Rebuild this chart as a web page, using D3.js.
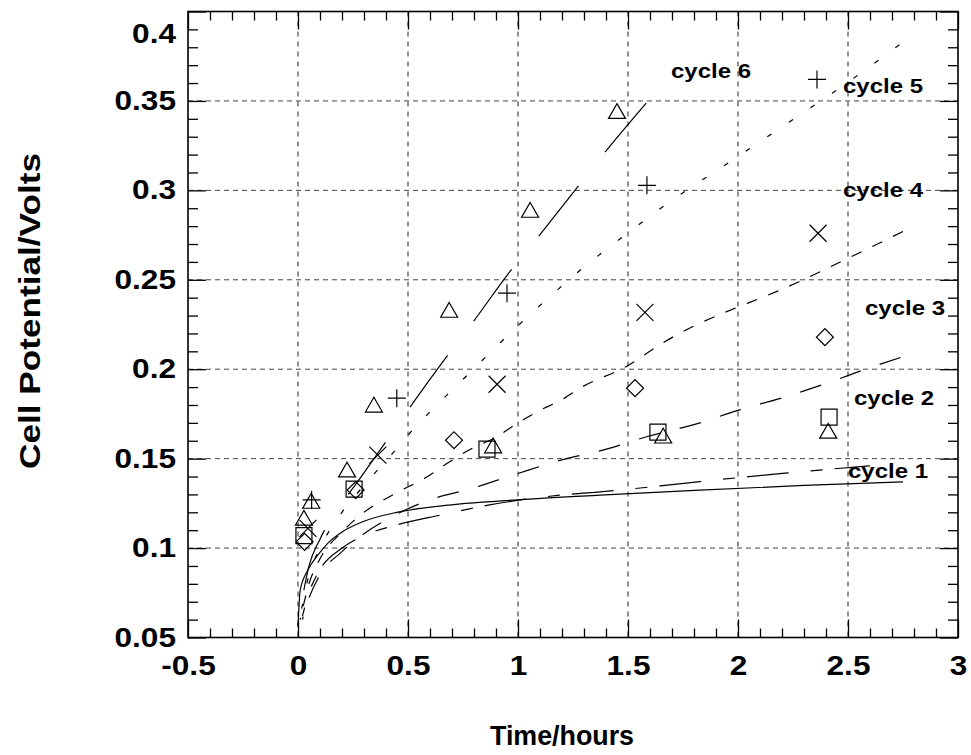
<!DOCTYPE html>
<html><head><meta charset="utf-8">
<script src="https://cdn.jsdelivr.net/npm/d3@7"></script>
<style>
body{margin:0;background:#fff;}
text{font-family:"Liberation Sans",Arial,sans-serif;font-weight:bold;fill:#000;}
</style>
</head><body>
<svg id="chart" width="971" height="755"></svg>
<script>
// ---------- axis ticks ----------
const xTickValues = [-0.5, 0, 0.5, 1, 1.5, 2, 2.5, 3];
const xTickLabels = ["-0.5", "0", "0.5", "1", "1.5", "2", "2.5", "3"];
const yTickValues = [0.05, 0.1, 0.15, 0.2, 0.25, 0.3, 0.35, 0.4];
const yTickLabels = ["0.05", "0.1", "0.15", "0.2", "0.25", "0.3", "0.35", "0.4"];
const xGridValues = [0, 0.5, 1, 1.5, 2, 2.5];
const yGridValues = [0.1, 0.15, 0.2, 0.25, 0.3, 0.35];

// ---------- model curves (time in hours, potential in volts) ----------
const cycle1Time  = [0, 0.01, 0.045, 0.09, 0.136, 0.2, 0.3, 0.45, 0.645, 1.0, 1.373, 1.827, 2.3, 2.75];
const cycle1Volts = [0.056, 0.0765, 0.0877, 0.096, 0.1028, 0.109, 0.115, 0.12, 0.1235, 0.127, 0.1296, 0.1324, 0.135, 0.137];

const cycle2Time  = [0.02, 0.05, 0.1, 0.2, 0.3, 0.45, 0.645, 0.864, 1.245, 1.373, 1.827, 2.214, 2.6];
const cycle2Volts = [0.062, 0.075, 0.088, 0.1, 0.107, 0.113, 0.1184, 0.124, 0.1302, 0.1314, 0.1372, 0.1419, 0.146];

const cycle3Time  = [0.02, 0.05, 0.1, 0.2, 0.3, 0.45, 0.6, 0.78, 0.99, 1.19, 1.41, 1.6, 1.8, 2.0, 2.2, 2.4, 2.58, 2.75];
const cycle3Volts = [0.06, 0.072, 0.085, 0.098, 0.108, 0.119, 0.127, 0.133, 0.1413, 0.149, 0.1556, 0.1628, 0.169, 0.177, 0.184, 0.192, 0.2, 0.207];

const cycle4Time  = [0.01, 0.05, 0.1, 0.2, 0.3, 0.45, 0.585, 0.68, 0.78, 0.9, 1.0, 1.1, 1.2, 1.29, 1.495, 1.655, 2.282, 2.75];
const cycle4Volts = [0.06, 0.08, 0.094, 0.109, 0.12, 0.131, 0.1397, 0.1475, 0.155, 0.162, 0.17, 0.177, 0.183, 0.19, 0.2017, 0.2145, 0.2492, 0.277];

const cycle5Time  = [0.01, 0.05, 0.1, 0.2, 0.3, 0.373, 0.455, 0.532, 0.615, 0.714, 1.085, 1.177, 1.282, 1.473, 1.66, 2.0, 2.718, 2.75];
const cycle5Volts = [0.062, 0.085, 0.1, 0.12, 0.135, 0.1453, 0.1564, 0.1676, 0.178, 0.19, 0.234, 0.2441, 0.2553, 0.2737, 0.291, 0.319, 0.38, 0.383];

const cycle6Time  = [0.01, 0.05, 0.1, 0.2, 0.282, 0.395, 0.509, 0.68, 0.795, 0.964, 1.09, 1.273, 1.395, 1.586];
const cycle6Volts = [0.065, 0.09, 0.105, 0.125, 0.139, 0.1587, 0.1788, 0.2078, 0.2263, 0.2547, 0.2737, 0.3022, 0.3212, 0.3492];

// ---------- measured points ----------
const cycle1MarkTime  = [0.027, 0.223, 0.887, 1.66, 2.41];          // triangles
const cycle1MarkVolts = [0.1156, 0.1425, 0.156, 0.1615, 0.1642];
const cycle2MarkTime  = [0.027, 0.255, 0.859, 1.636, 2.414];        // squares
const cycle2MarkVolts = [0.107, 0.133, 0.1553, 0.1648, 0.1732];
const cycle3MarkTime  = [0.03, 0.262, 0.709, 1.532, 2.395];         // diamonds
const cycle3MarkVolts = [0.1035, 0.1324, 0.1603, 0.1894, 0.2179];
const cycle4MarkTime  = [0.045, 0.363, 0.905, 1.577, 2.364];        // crosses (x)
const cycle4MarkVolts = [0.111, 0.152, 0.1916, 0.2318, 0.276];
const cycle5MarkTime  = [0.062, 0.449, 0.95, 1.586, 2.359];         // plus
const cycle5MarkVolts = [0.127, 0.1838, 0.2425, 0.3028, 0.362];
const cycle6MarkTime  = [0.06, 0.345, 0.687, 1.055, 1.45];          // triangles
const cycle6MarkVolts = [0.125, 0.1788, 0.2318, 0.2877, 0.343];

const cycleNames = ["cycle 1", "cycle 2", "cycle 3", "cycle 4", "cycle 5", "cycle 6"];
const xTitle = "Time/hours";
const yTitle = "Cell Potential/Volts";

// ---------- drawing ----------
const svg = d3.select("#chart");
const L = 188, R = 958, T = 11.5, B = 637.5;
const x = d3.scaleLinear().domain([-0.5, 3]).range([L, R]);
const y = d3.scaleLinear().domain([0.05, 0.4]).range([B, T]);

function stretch(sel, f) {
  sel.each(function () {
    const w = this.getComputedTextLength();
    d3.select(this).attr("textLength", w * f).attr("lengthAdjust", "spacingAndGlyphs");
  });
}

// grid
svg.append("g").selectAll("line").data(yGridValues).join("line")
  .attr("x1", L).attr("x2", R).attr("y1", d => y(d)).attr("y2", d => y(d))
  .attr("stroke", "#444").attr("stroke-width", 1).attr("stroke-dasharray", "5,4");
svg.append("g").selectAll("line").data(xGridValues).join("line")
  .attr("y1", T).attr("y2", B).attr("x1", d => x(d)).attr("x2", d => x(d))
  .attr("stroke", "#222").attr("stroke-width", 1).attr("stroke-dasharray", "5,5");

// minor ticks
const xMinor = d3.range(-5, 31).map(i => i / 10).filter(v => Math.abs(v * 2 - Math.round(v * 2)) > 1e-6);
const yMinor = d3.range(5, 41).map(i => i / 100).filter(v => Math.abs(v * 20 - Math.round(v * 20)) > 1e-6);
function noText(g) { g.selectAll("text").remove(); g.select(".domain").remove(); }

svg.append("g").attr("transform", `translate(0,${B})`)
  .call(d3.axisBottom(x).tickValues(xMinor).tickSizeInner(-9).tickSizeOuter(0)).call(noText);
svg.append("g").attr("transform", `translate(0,${T})`)
  .call(d3.axisTop(x).tickValues(xMinor).tickSizeInner(-9).tickSizeOuter(0)).call(noText);
svg.append("g").attr("transform", `translate(${L},0)`)
  .call(d3.axisLeft(y).tickValues(yMinor).tickSizeInner(-10).tickSizeOuter(0)).call(noText);
svg.append("g").attr("transform", `translate(${R},0)`)
  .call(d3.axisRight(y).tickValues(yMinor).tickSizeInner(-10).tickSizeOuter(0)).call(noText);

// major ticks with labels
const xAxis = svg.append("g").attr("transform", `translate(0,${B})`)
  .call(d3.axisBottom(x).tickValues(xTickValues).tickFormat((d, i) => xTickLabels[i]).tickSizeInner(-18).tickSizeOuter(0).tickPadding(18));
xAxis.select(".domain").remove();
xAxis.selectAll("text").attr("font-size", 27).attr("font-family", "Liberation Sans, Arial, sans-serif").attr("font-weight", "bold").call(stretch, 1.17);
svg.append("g").attr("transform", `translate(0,${T})`)
  .call(d3.axisTop(x).tickValues(xTickValues).tickSizeInner(-18).tickSizeOuter(0)).call(noText);

const yAxis = svg.append("g").attr("transform", `translate(${L},0)`)
  .call(d3.axisLeft(y).tickValues(yTickValues).tickFormat((d, i) => yTickLabels[i]).tickSizeInner(-18).tickSizeOuter(0).tickPadding(12));
yAxis.select(".domain").remove();
yAxis.selectAll("text").attr("font-size", 27).attr("font-family", "Liberation Sans, Arial, sans-serif").attr("font-weight", "bold").call(stretch, 1.17);
yAxis.selectAll(".tick").filter(d => d === 0.4).select("text").attr("dy", "1.15em");
svg.append("g").attr("transform", `translate(${R},0)`)
  .call(d3.axisRight(y).tickValues(yTickValues).tickSizeInner(-18).tickSizeOuter(0)).call(noText);

svg.selectAll(".tick line").attr("stroke", "#000").attr("stroke-width", 1.3);

// frame
svg.append("rect").attr("x", L).attr("y", T).attr("width", R - L).attr("height", B - T)
  .attr("fill", "none").attr("stroke", "#000").attr("stroke-width", 1.6);

// curves
const line = d3.line().x(d => x(d[0])).y(d => y(d[1])).curve(d3.curveMonotoneX);
// [time, volts, dash pattern, x-pixel where a dash starts in the original]
const curves = [
  [cycle1Time, cycle1Volts, null, null],
  [cycle2Time, cycle2Volts, [42, 22, 12, 12], 571.7],
  [cycle3Time, cycle3Volts, [22, 20], 760],
  [cycle4Time, cycle4Volts, [11, 12], 746.7],
  [cycle5Time, cycle5Volts, [5, 21], 832],
  [cycle6Time, cycle6Volts, [64, 43], 410]
];
const curvePaths = svg.append("g").selectAll("path").data(curves).join("path")
  .attr("d", c => line(c[0].map((t, i) => [t, c[1][i]])))
  .attr("fill", "none").attr("stroke", "#000").attr("stroke-width", 1.2)
  .attr("stroke-dasharray", c => c[2] ? c[2].join(",") : null);

// align dash phase with the original: a dash begins at the given x
curvePaths.each(function (c) {
  if (!c[2]) return;
  const total = this.getTotalLength();
  let lo = 0, hi = total;
  for (let k = 0; k < 40; k++) {
    const mid = (lo + hi) / 2;
    if (this.getPointAtLength(mid).x < c[3]) lo = mid; else hi = mid;
  }
  const period = d3.sum(c[2]);
  const off = (period - (lo % period)) % period;
  d3.select(this).attr("stroke-dashoffset", off);
});

// markers
function drawMarks(times, volts, type, size, rot) {
  svg.append("g").selectAll("path").data(times.map((t, i) => [t, volts[i]])).join("path")
    .attr("transform", d => `translate(${x(d[0])},${y(d[1])}) rotate(${rot})`)
    .attr("d", d3.symbol().type(type).size(size))
    .attr("fill", "none").attr("stroke", "#000").attr("stroke-width", 1.2);
}
drawMarks(cycle1MarkTime, cycle1MarkVolts, d3.symbolTriangle, 125, 0);
drawMarks(cycle6MarkTime, cycle6MarkVolts, d3.symbolTriangle, 125, 0);
drawMarks(cycle2MarkTime, cycle2MarkVolts, d3.symbolSquare, 256, 0);
drawMarks(cycle3MarkTime, cycle3MarkVolts, d3.symbolSquare, 144, 45);
drawMarks(cycle4MarkTime, cycle4MarkVolts, d3.symbolTimes, 190, 0);
drawMarks(cycle5MarkTime, cycle5MarkVolts, d3.symbolPlus, 108, 0);

// cycle labels
const labelPos = [[848, 478], [854, 405], [865, 315], [843, 197], [843, 93], [671, 78]];
svg.append("g").selectAll("text").data(cycleNames).join("text")
  .attr("x", (d, i) => labelPos[i][0]).attr("y", (d, i) => labelPos[i][1])
  .attr("font-size", 20.5).text(d => d).call(stretch, 1.17);

// axis titles
svg.append("text").attr("x", 562).attr("y", 745).attr("text-anchor", "middle")
  .attr("font-size", 27).attr("textLength", 144).attr("lengthAdjust", "spacingAndGlyphs").text(xTitle);
svg.append("text").attr("transform", "translate(40,311) rotate(-90)").attr("text-anchor", "middle")
  .attr("font-size", 29).attr("textLength", 316).attr("lengthAdjust", "spacingAndGlyphs").text(yTitle);
</script>
</body></html>
